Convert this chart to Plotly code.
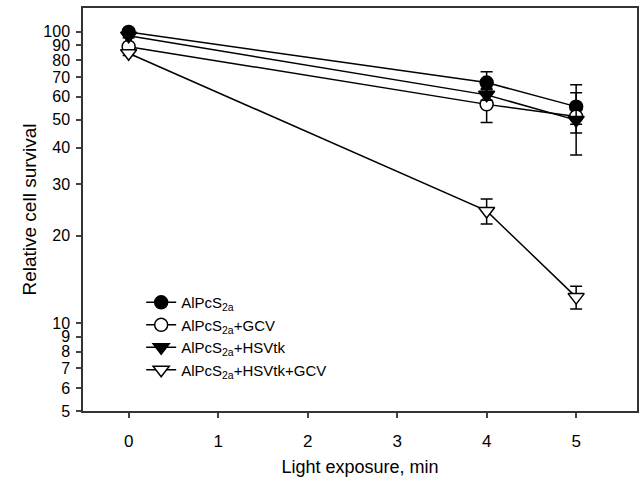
import plotly.graph_objects as go

x = [0, 4, 5]
names = ["AlPcS<sub>2a</sub>", "AlPcS<sub>2a</sub>+GCV", "AlPcS<sub>2a</sub>+HSVtk", "AlPcS<sub>2a</sub>+HSVtk+GCV"]
alpcs = [100, 67, 55.4]
alpcs_err = [1.5, 6, 10.4]
alpcs_gcv = [89, 56.4, 51.2]
alpcs_gcv_err = [1.5, 7.5, 3]
alpcs_hsv = [97, 60.8, 49.8]
alpcs_hsv_err = [1.5, 2.5, 12]
alpcs_hsv_gcv = [84.5, 24.3, 12.3]
alpcs_hsv_gcv_err = [1.5, 2.4, 1.1]
yticks = [5, 6, 7, 8, 9, 10, 20, 30, 40, 50, 60, 70, 80, 90, 100]
xticks = [0, 1, 2, 3, 4, 5]

FONT = "Liberation Sans, Arial, sans-serif"

series = [
    (names[0], alpcs, alpcs_err, "circle", "black"),
    (names[1], alpcs_gcv, alpcs_gcv_err, "circle", "white"),
    (names[2], alpcs_hsv, alpcs_hsv_err, "triangle-down", "black"),
    (names[3], alpcs_hsv_gcv, alpcs_hsv_gcv_err, "triangle-down", "white"),
]

fig = go.Figure()
for name, ys, err, sym, fill in series:
    fig.add_trace(go.Scatter(
        x=x, y=ys, name=name, mode="lines+markers",
        line=dict(color="black", width=1.5),
        marker=dict(symbol=sym, size=13 if "circle" in sym else 14, color=fill,
                    line=dict(color="black", width=1.5)),
        error_y=dict(type="data", array=err, visible=True, color="black",
                     thickness=1.5, width=6),
    ))

fig.update_layout(
    width=644, height=479,
    margin=dict(l=83, r=7, t=8, b=68, autoexpand=False),
    paper_bgcolor="white", plot_bgcolor="white",
    font=dict(family=FONT, size=16, color="black"),
    showlegend=True,
    legend=dict(x=0.105, y=0.31, xanchor="left", yanchor="top",
                bgcolor="rgba(0,0,0,0)", font=dict(size=15, family=FONT),
                itemwidth=30, tracegroupgap=0),
    xaxis=dict(range=[-0.51, 5.68], tickvals=xticks, ticks="outside", ticklen=5,
               tickwidth=1.5, showline=True, linecolor="#333", linewidth=1.5,
               mirror=True, showgrid=False, zeroline=False, automargin=False,
               tickfont=dict(size=17), ticklabelstandoff=9,
               title=dict(text="Light exposure, min", font=dict(size=18), standoff=10)),
    yaxis=dict(type="log", range=[0.699, 2.082], tickvals=yticks,
               ticktext=[str(v) for v in yticks], ticks="outside", ticklen=5,
               tickwidth=1.5, showline=True, linecolor="#333", linewidth=1.5,
               mirror=True, showgrid=False, zeroline=False, automargin=False,
               tickfont=dict(size=16), ticklabelstandoff=3,
               title=dict(text="Relative cell survival", font=dict(size=19), standoff=2)),
)

fig.write_html("out.html", config={"displayModeBar": False},
               post_script="document.body.style.margin='0';")
